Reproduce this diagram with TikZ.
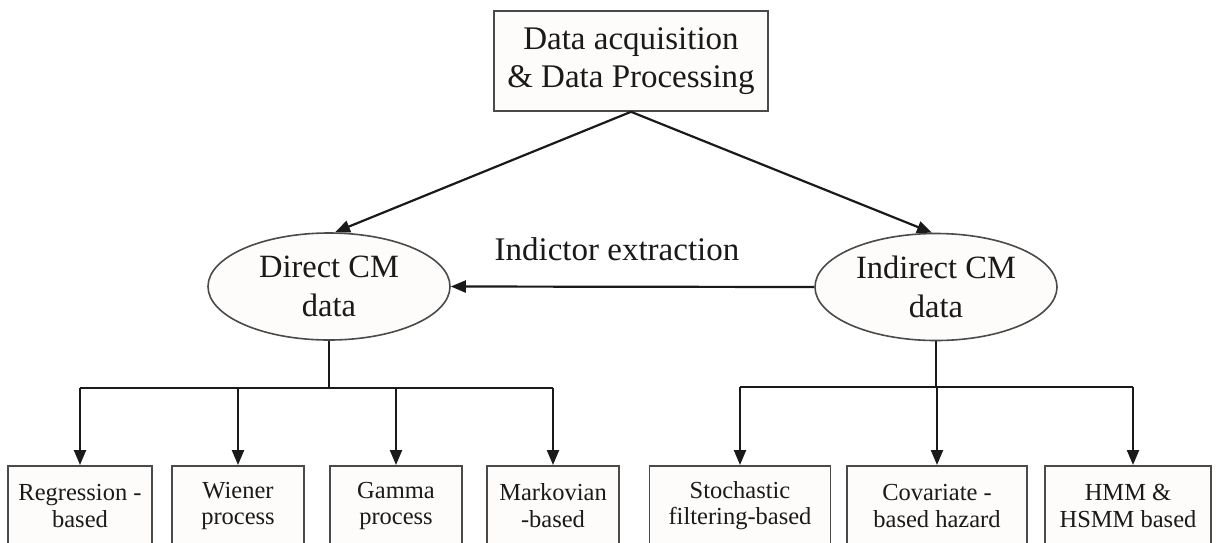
\documentclass[tikz,border=0pt]{standalone}
\usepackage{fontspec}
\setmainfont{Liberation Serif}
\usetikzlibrary{arrows.meta,shapes.geometric,calc}
\definecolor{ink}{HTML}{1A1A1A}
\definecolor{frame}{HTML}{4A4A4A}
\definecolor{paper}{HTML}{FDFCFA}
\tikzset{
  topbox/.style={draw=frame, line width=1.6pt, fill=paper, text=ink,
    minimum width=274pt, minimum height=100pt, inner sep=0pt, align=center,
    font=\fontsize{33}{37.5}\selectfont},
  cmdata/.style={ellipse, draw=frame, line width=1.6pt, fill=paper, text=ink,
    minimum width=242pt, minimum height=107pt, inner sep=0pt, align=center,
    font=\fontsize{32.5}{39}\selectfont},
  method/.style={draw=frame, line width=1.5pt, fill=paper, text=ink,
    minimum height=80pt, inner sep=0pt, anchor=north, align=center,
    font=\fontsize{24.5}{26.5}\selectfont},
  link/.style={draw=ink, line width=2.2pt},
  arrowlink/.style={link, -{Triangle[length=15pt,width=12pt]}},
  caption/.style={text=ink, font=\fontsize{33}{38}\selectfont}
}
\begin{document}
\begin{tikzpicture}[x=1pt,y=-1pt]
\useasboundingbox (0,0) rectangle (1218,542);
\clip (0,0) rectangle (1218,542);
\fill[white] (0,0) rectangle (1218,542);

% source of all data
\node[topbox] (acq) at (631,61) {Data acquisition\\\& Data Processing};

% condition-monitoring data kinds
\node[cmdata] (dir) at (329,286.5) {Direct CM\\data};
\node[cmdata] (ind) at (936,287) {Indirect CM\\data};

\node[caption] (extr) at (617,249) {Indictor extraction};

% modelling approaches
\node[method, minimum width=144pt] (reg) at (80,465)   {Regression -\\based};
\node[method, minimum width=132pt] (wie) at (238,465)  {Wiener\\process};
\node[method, minimum width=132pt] (gam) at (396,465)  {Gamma\\process};
\node[method, minimum width=132pt] (mar) at (553,465)  {Markovian\\-based};
\node[method, minimum width=181pt] (sto) at (740,465)  {Stochastic\\filtering-based};
\node[method, minimum width=180pt] (cov) at (937,465)  {Covariate -\\based hazard};
\node[method, minimum width=166pt] (hmm) at (1128,465) {HMM \&\\HSMM based};

% junction points of the two distribution bars
\coordinate (lbar) at (329,388);
\coordinate (rbar) at (936,387);

% top-level split
\draw[arrowlink] (acq.south) -- ($(dir.north)+(6,0)$);
\draw[arrowlink] (acq.south) -- ($(ind.north)+(-4,0)$);

% indirect data converted into direct data
\draw[arrowlink] (ind.west) -- (dir.east);

% left distribution bar
\draw[link] (dir.south) -- (lbar);
\draw[link] (reg.north |- lbar) -- (mar.north |- lbar);
\foreach \b in {reg,wie,gam,mar}
  \draw[arrowlink] (\b.north |- lbar) -- (\b.north);

% right distribution bar
\draw[link] (ind.south) -- (rbar);
\draw[link] (sto.north |- rbar) -- ($(hmm.north |- rbar)+(5,0)$);
\draw[arrowlink] (sto.north |- rbar) -- (sto.north);
\draw[arrowlink] (cov.north |- rbar) -- (cov.north);
\draw[arrowlink] ($(hmm.north |- rbar)+(5,0)$) -- ($(hmm.north)+(5,0)$);
\end{tikzpicture}
\end{document}
